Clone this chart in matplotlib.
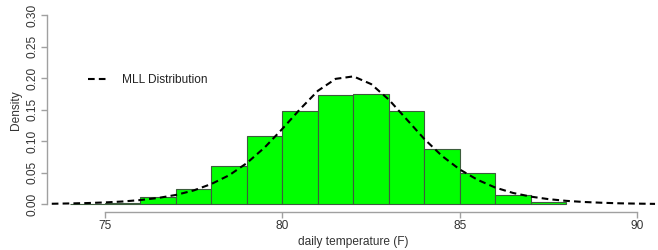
import matplotlib.pyplot as plt
import numpy as np

plt.rcParams['font.family'] = ['Liberation Sans', 'DejaVu Sans']

# histogram bins (width 1) and densities
bin_edges = [74, 75, 76, 77, 78, 79, 80, 81, 82, 83, 84, 85, 86, 87, 88]
density = [0.001, 0.002, 0.012, 0.025, 0.061, 0.108, 0.148, 0.174,
           0.175, 0.148, 0.088, 0.049, 0.014, 0.004]

# fitted "MLL Distribution" curve, values read at half-degree steps
curve_x = [73.5, 74, 74.5, 75, 75.5, 76, 76.5, 77, 77.5, 78, 78.5, 79,
           79.5, 80, 80.5, 81, 81.5, 82, 82.5, 83, 83.5, 84, 84.5, 85,
           85.5, 86, 86.5, 87, 87.5, 88, 88.5, 89, 89.5, 90, 90.5]
curve_y = [0.0009, 0.0014, 0.0020, 0.0030, 0.0045, 0.0068, 0.0101, 0.0149,
           0.0220, 0.0323, 0.0461, 0.0655, 0.0901, 0.1197, 0.1510, 0.1799,
           0.1988, 0.2027, 0.1905, 0.1658, 0.1347, 0.1034, 0.0765, 0.0551,
           0.0388, 0.0265, 0.0180, 0.0122, 0.0082, 0.0055, 0.0037, 0.0025,
           0.0016, 0.0011, 0.0007]

x_ticks = [75, 80, 85, 90]
y_ticks = [0.00, 0.05, 0.10, 0.15, 0.20, 0.25, 0.30]

fig = plt.figure(figsize=(6.58, 2.5), dpi=100)
ax = fig.add_axes([46.8 / 658, 38.1 / 250, 613.2 / 658, 204.5 / 250])

lefts = np.array(bin_edges[:-1])
widths = np.diff(bin_edges)
ax.bar(lefts, density, width=widths, align='edge', color='#00ff00',
       edgecolor='#3d5c3d', linewidth=0.8)

line, = ax.plot(curve_x, curve_y, color='black', lw=1.5, ls=(0, (3.2, 2)),
                label='MLL Distribution')

ax.set_xlim(73.36, 90.64)
ax.set_ylim(-0.012, 0.312)

for s in ['top', 'right']:
    ax.spines[s].set_visible(False)
ax.spines['left'].set_bounds(0, 0.30)
ax.spines['bottom'].set_bounds(75, 90)
for s in ['left', 'bottom']:
    ax.spines[s].set_color('#a0a0a0')
    ax.spines[s].set_linewidth(1.0)

ax.set_xticks(x_ticks)
ax.set_xticklabels([str(t) for t in x_ticks])
ax.set_yticks(y_ticks)
ax.set_yticklabels(['%.2f' % t for t in y_ticks], rotation=90, va='center')
ax.tick_params(axis='both', colors='#a0a0a0', labelcolor='#333333',
               labelsize=8.6, length=4, width=1.0, pad=2)

ax.set_xlabel('daily temperature (F)', fontsize=8.6, color='#333333', labelpad=3)
ax.set_ylabel('Density', fontsize=8.6, color='#333333', labelpad=3)

ax.legend(handles=[line], loc='upper left', bbox_to_anchor=(0.05, 0.728),
          frameon=False, fontsize=8.6, handlelength=1.7, handletextpad=1.1,
          labelcolor='#222222')

fig.savefig('out.png', dpi=100)
